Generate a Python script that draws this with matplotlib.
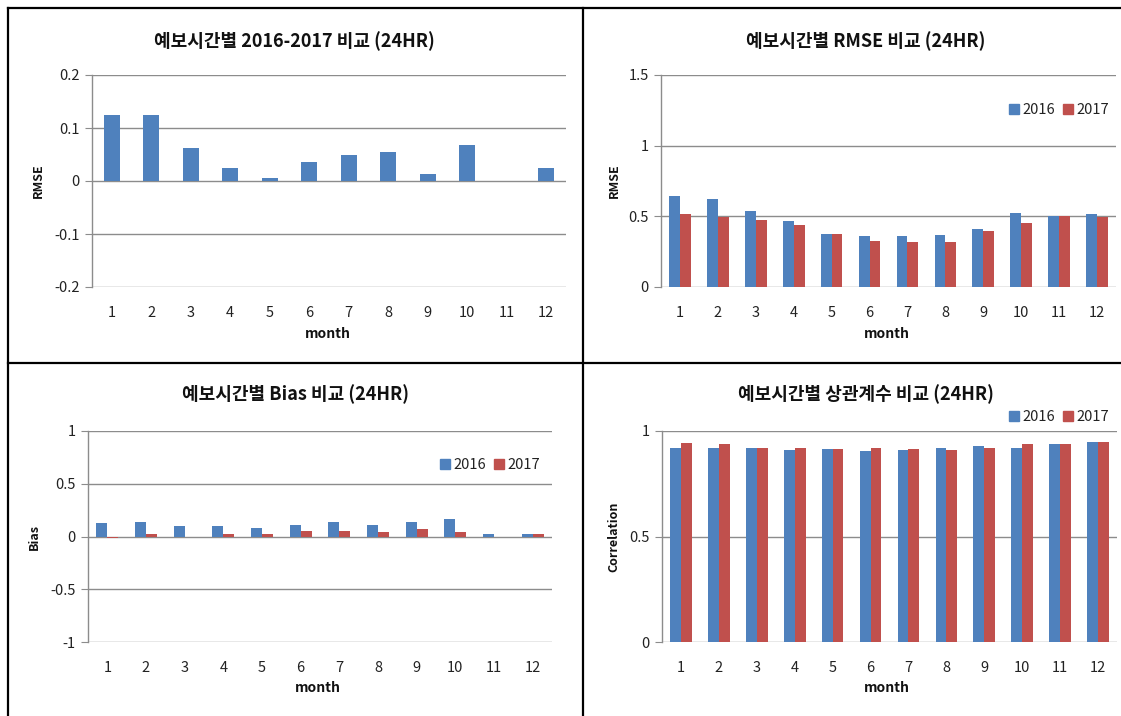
import matplotlib
matplotlib.use('Agg')
import matplotlib.pyplot as plt
from matplotlib.lines import Line2D
from matplotlib.ticker import FuncFormatter
import numpy as np

plt.rcParams['font.family'] = ['Noto Sans CJK KR', 'DejaVu Sans']

months = [1, 2, 3, 4, 5, 6, 7, 8, 9, 10, 11, 12]
years = ['2016', '2017']

# RMSE difference 2016-2017
diff_rmse = [0.125, 0.125, 0.062, 0.025, 0.006, 0.036, 0.050, 0.055, 0.013, 0.067, 0.0, 0.025]

rmse_2016 = [0.641, 0.624, 0.537, 0.466, 0.376, 0.359, 0.359, 0.369, 0.411, 0.527, 0.499, 0.518]
rmse_2017 = [0.518, 0.496, 0.475, 0.440, 0.376, 0.326, 0.317, 0.317, 0.397, 0.456, 0.499, 0.494]

bias_2016 = [0.132, 0.142, 0.097, 0.097, 0.085, 0.110, 0.142, 0.110, 0.142, 0.167, 0.028, 0.019]
bias_2017 = [-0.017, 0.019, 0.0, 0.019, 0.028, 0.050, 0.050, 0.038, 0.072, 0.038, 0.0, 0.019]

corr_2016 = [0.921, 0.921, 0.921, 0.911, 0.915, 0.904, 0.911, 0.921, 0.928, 0.921, 0.939, 0.950]
corr_2017 = [0.945, 0.939, 0.921, 0.921, 0.915, 0.921, 0.915, 0.911, 0.921, 0.939, 0.939, 0.950]

titles = ['예보시간별 2016-2017 비교 (24HR)', '예보시간별 RMSE 비교 (24HR)',
          '예보시간별 Bias 비교 (24HR)', '예보시간별 상관계수 비교 (24HR)']

W, H = 1121, 716
BLUE = '#4F81BD'
RED = '#C0504D'
GRID = '#8C8C8C'

fig = plt.figure(figsize=(W / 100, H / 100), dpi=100)


def px_rect(l, t, r, b):
    return [l / W, 1 - b / H, (r - l) / W, (b - t) / H]


def fx(x):
    return x / W


def fy(y):
    return 1 - y / H


def style_axes(ax, ylim, yticks):
    ax.set_xlim(0.5, 12.5)
    ax.set_ylim(ylim)
    ax.set_yticks(yticks)
    ax.yaxis.set_major_formatter(FuncFormatter(lambda v, p: '{:g}'.format(round(v, 3))))
    ax.set_xticks(months)
    ax.set_xticklabels([str(m) for m in months])
    for s in ['top', 'right', 'bottom']:
        ax.spines[s].set_visible(False)
    ax.spines['left'].set_color(GRID)
    ax.spines['left'].set_linewidth(1.0)
    ax.yaxis.grid(True, color=GRID, linewidth=1.0)
    ax.set_axisbelow(True)
    ax.tick_params(axis='y', length=5, color=GRID, labelsize=10.5, labelcolor='#222222', pad=4)
    ax.tick_params(axis='x', length=0, labelsize=10.5, labelcolor='#222222', pad=14)
    ax.patch.set_alpha(0)


def add_legend(x_right, y_center):
    handles = [Line2D([], [], marker='s', linestyle='none', markersize=7, color=BLUE),
               Line2D([], [], marker='s', linestyle='none', markersize=7, color=RED)]
    fig.legend(handles, years, loc='center right', bbox_to_anchor=(fx(x_right), fy(y_center)),
               ncol=2, frameon=False, fontsize=10.5, handlelength=0.6, handletextpad=0.25,
               columnspacing=0.6, borderpad=0, labelcolor='#222222')


x = np.array(months)
w = 0.286

# panel 1
ax1 = fig.add_axes(px_rect(92, 75, 566, 287))
ax1.bar(x, diff_rmse, width=0.4, color=BLUE)
style_axes(ax1, (-0.2, 0.2), [-0.2, -0.1, 0, 0.1, 0.2])

# panel 2
ax2 = fig.add_axes(px_rect(661, 75, 1116, 287))
ax2.bar(x - w / 2, rmse_2016, width=w, color=BLUE)
ax2.bar(x + w / 2, rmse_2017, width=w, color=RED)
style_axes(ax2, (0, 1.5), [0, 0.5, 1, 1.5])
add_legend(1116, 110)

# panel 3
ax3 = fig.add_axes(px_rect(88, 431, 552, 642))
ax3.bar(x - w / 2, bias_2016, width=w, color=BLUE)
ax3.bar(x + w / 2, bias_2017, width=w, color=RED)
style_axes(ax3, (-1, 1), [-1, -0.5, 0, 0.5, 1])
add_legend(547, 465)

# panel 4
ax4 = fig.add_axes(px_rect(662, 431, 1117, 642))
ax4.bar(x - w / 2, corr_2016, width=w, color=BLUE)
ax4.bar(x + w / 2, corr_2017, width=w, color=RED)
style_axes(ax4, (0, 1), [0, 0.5, 1])
add_legend(1116, 417)

# titles and labels
title_pos = [(294, 41), (866, 41), (295, 394), (866, 394)]
ylab = [('RMSE', 38, 181), ('RMSE', 614, 181), ('Bias', 34, 537), ('Correlation', 614, 537)]
xlab = [(328, 334), (887, 334), (318, 688), (887, 688)]
for t, (tx, ty) in zip(titles, title_pos):
    fig.text(fx(tx), fy(ty), t, ha='center', va='center', fontsize=13, fontweight='bold', color='#111111')
for lab, lx, ly in ylab:
    fig.text(fx(lx), fy(ly), lab, ha='center', va='center', rotation=90, fontsize=9,
             fontweight='bold', color='#111111')
for mx, my in xlab:
    fig.text(fx(mx), fy(my), 'month', ha='center', va='center', fontsize=10, fontweight='bold',
             color='#111111')

# table borders
border = dict(color='black', linewidth=1.6, transform=fig.transFigure)
fig.add_artist(Line2D([fx(8), 1], [fy(8), fy(8)], **border))
fig.add_artist(Line2D([fx(8), fx(8)], [fy(8), 0], **border))
fig.add_artist(Line2D([fx(583), fx(583)], [fy(8), 0], **border))
fig.add_artist(Line2D([fx(8), 1], [fy(363), fy(363)], **border))

fig.savefig('out.png', dpi=100)
